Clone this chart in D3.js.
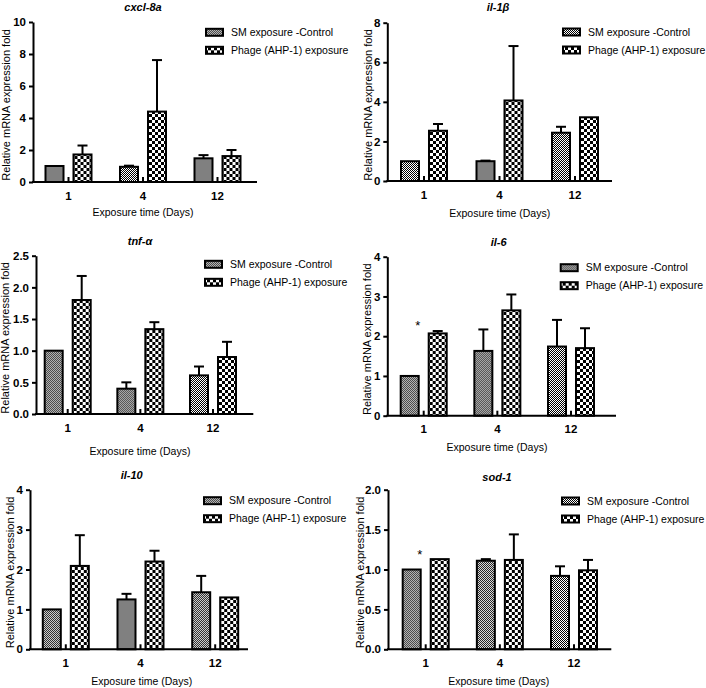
<!DOCTYPE html>
<html><head><meta charset="utf-8">
<script src="https://cdn.jsdelivr.net/npm/d3@7"></script>
<style>body{margin:0;background:#fff} svg{display:block}</style>
</head><body><svg id="c" width="706" height="688"></svg>
<script>
// ---------- data ----------
const days = ["1", "4", "12"];
const seriesNames = ["SM exposure -Control", "Phage (AHP-1) exposure"];
const geneTitles = ["cxcl-8a", "il-1β", "tnf-α", "il-6", "il-10", "sod-1"];
const xAxisTitle = "Exposure time (Days)";
const yAxisTitle = "Relative mRNA expression fold";
const yMaxValues = [10, 8, 2.5, 4, 4, 2.0];
const yTickSteps = [2, 2, 0.5, 1, 1, 0.5];
const yTickDecimals = [0, 0, 1, 0, 0, 1];

const cxcl8aControl = [1.00, 0.95, 1.48];
const cxcl8aControlSD = [0.00, 0.07, 0.20];
const cxcl8aPhage = [1.72, 4.40, 1.62];
const cxcl8aPhageSD = [0.56, 3.22, 0.38];

const il1bControl = [1.00, 1.00, 2.44];
const il1bControlSD = [0.00, 0.03, 0.30];
const il1bPhage = [2.54, 4.07, 3.22];
const il1bPhageSD = [0.34, 2.75, 0.00];

const tnfaControl = [1.00, 0.40, 0.61];
const tnfaControlSD = [0.00, 0.10, 0.14];
const tnfaPhage = [1.80, 1.34, 0.90];
const tnfaPhageSD = [0.38, 0.11, 0.24];

const il6Control = [1.00, 1.63, 1.74];
const il6ControlSD = [0.00, 0.54, 0.67];
const il6Phage = [2.07, 2.65, 1.70];
const il6PhageSD = [0.06, 0.40, 0.50];

const il10Control = [1.00, 1.25, 1.43];
const il10ControlSD = [0.00, 0.14, 0.41];
const il10Phage = [2.09, 2.20, 1.30];
const il10PhageSD = [0.77, 0.27, 0.00];

const sod1Control = [1.00, 1.11, 0.92];
const sod1ControlSD = [0.00, 0.02, 0.12];
const sod1Phage = [1.13, 1.12, 0.99];
const sod1PhageSD = [0.00, 0.32, 0.13];

const significantDays = [[], [], [], ["1"], [], ["1"]];

const controlMeans = [cxcl8aControl, il1bControl, tnfaControl, il6Control, il10Control, sod1Control];
const controlSDs = [cxcl8aControlSD, il1bControlSD, tnfaControlSD, il6ControlSD, il10ControlSD, sod1ControlSD];
const phageMeans = [cxcl8aPhage, il1bPhage, tnfaPhage, il6Phage, il10Phage, sod1Phage];
const phageSDs = [cxcl8aPhageSD, il1bPhageSD, tnfaPhageSD, il6PhageSD, il10PhageSD, sod1PhageSD];

// ---------- layout ----------
const axisX = [33, 387.3, 36, 387.3, 30, 388];
const axisEnd = [257, 612, 253.3, 616, 248, 611.3];
const firstCenter = [68.5, 424, 67.7, 423.7, 65.8, 425.7];
const lastCenter = [217.5, 575, 213, 571, 215.2, 574];
const yTopPx = [22, 22.7, 255.7, 256.7, 489.7, 489.7];
const yBotPx = [182, 181, 414, 415.7, 649.3, 649.3];
const titlePos = [[143, 7], [498, 7], [140, 240.7], [498.7, 242], [131.7, 475], [497, 476.7]];
const xTitlePos = [[143, 212], [499.7, 213.3], [140, 451.7], [497, 447.7], [141.7, 681], [498.7, 681]];
const yTitleX = [6, 368, 5, 367, 10, 360.3];
const legendPos = [[205, 32.3], [562, 32], [204, 264.3], [559.7, 267.7], [203, 500.7], [561, 501]];

const FONT = "'Liberation Sans', Arial, Helvetica, sans-serif";
const svg = d3.select("#c");

// patterns
const defs = svg.append("defs");
const fine = defs.append("pattern").attr("id", "pCtrl").attr("patternUnits", "userSpaceOnUse")
  .attr("width", 2).attr("height", 2);
fine.append("rect").attr("width", 2).attr("height", 2).attr("fill", "#fff");
fine.append("rect").attr("width", 1).attr("height", 1).attr("fill", "#000");
fine.append("rect").attr("x", 1).attr("y", 1).attr("width", 1).attr("height", 1).attr("fill", "#000");
const coarse = defs.append("pattern").attr("id", "pPhage").attr("patternUnits", "userSpaceOnUse")
  .attr("width", 6).attr("height", 6);
coarse.append("rect").attr("width", 6).attr("height", 6).attr("fill", "#fff");
coarse.append("rect").attr("width", 3).attr("height", 3).attr("fill", "#000");
coarse.append("rect").attr("x", 3).attr("y", 3).attr("width", 3).attr("height", 3).attr("fill", "#000");
const fills = ["url(#pCtrl)", "url(#pPhage)"];

geneTitles.forEach((gene, i) => {
  const g = svg.append("g");
  const step = (lastCenter[i] - firstCenter[i]) / 2;
  const x0 = d3.scaleBand().domain(days)
    .range([firstCenter[i] - step / 2, lastCenter[i] + step / 2]).padding(0);
  const x1 = d3.scaleBand().domain(seriesNames).range([-24, 24]).paddingInner(0.2857).paddingOuter(0);
  const y = d3.scaleLinear().domain([0, yMaxValues[i]]).range([yBotPx[i], yTopPx[i]]);
  const center = d => x0(d) + x0.bandwidth() / 2;

  const rows = days.map((d, k) => ({
    day: d,
    vals: [
      { s: seriesNames[0], m: controlMeans[i][k], sd: controlSDs[i][k], idx: 0 },
      { s: seriesNames[1], m: phageMeans[i][k], sd: phageSDs[i][k], idx: 1 }
    ]
  }));

  // bars
  const grp = g.selectAll("g.grp").data(rows).join("g")
    .attr("transform", r => `translate(${center(r.day)},0)`);
  grp.selectAll("line.err").data(r => r.vals.filter(v => v.sd > 0)).join("line")
    .attr("x1", v => x1(v.s) + x1.bandwidth() / 2).attr("x2", v => x1(v.s) + x1.bandwidth() / 2)
    .attr("y1", v => y(v.m)).attr("y2", v => y(v.m + v.sd))
    .attr("stroke", "#000").attr("stroke-width", 2);
  grp.selectAll("line.cap").data(r => r.vals.filter(v => v.sd > 0)).join("line")
    .attr("x1", v => x1(v.s) + x1.bandwidth() / 2 - 5).attr("x2", v => x1(v.s) + x1.bandwidth() / 2 + 5)
    .attr("y1", v => y(v.m + v.sd)).attr("y2", v => y(v.m + v.sd))
    .attr("stroke", "#000").attr("stroke-width", 2);
  grp.selectAll("rect").data(r => r.vals).join("rect")
    .attr("x", v => x1(v.s) + 1).attr("width", x1.bandwidth() - 2)
    .attr("y", v => y(v.m)).attr("height", v => y(0) - y(v.m))
    .attr("fill", v => fills[v.idx]).attr("stroke", "#000").attr("stroke-width", 2);

  // significance
  significantDays[i].forEach(d => {
    const k = days.indexOf(d);
    const top = Math.max(phageMeans[i][k] + phageSDs[i][k], controlMeans[i][k] + controlSDs[i][k]);
    g.append("text").attr("x", center(d) - 6).attr("y", y(top) - 8).attr("dy", "0.57em")
      .attr("text-anchor", "middle").attr("font-family", FONT).attr("font-size", 13).text("*");
  });

  // y axis
  const ticks = d3.range(0, yMaxValues[i] + 1e-9, yTickSteps[i]);
  const ya = g.append("g").attr("transform", `translate(${axisX[i]},0)`)
    .call(d3.axisLeft(y).tickValues(ticks).tickFormat(d3.format("." + yTickDecimals[i] + "f"))
      .tickSize(4).tickSizeOuter(0).tickPadding(3));
  ya.select(".domain").attr("stroke-width", 2);
  ya.selectAll(".tick line").attr("stroke-width", 2);
  ya.selectAll("text").attr("font-family", FONT).attr("font-size", 11.5).attr("font-weight", "bold").attr("fill", "#000");

  // x axis
  g.append("line").attr("x1", axisX[i] - 1).attr("x2", axisEnd[i]).attr("y1", y(0)).attr("y2", y(0))
    .attr("stroke", "#000").attr("stroke-width", 2);
  const xa = g.append("g").attr("transform", `translate(0,${y(0)})`)
    .call(d3.axisBottom(x0).tickSize(-5).tickSizeOuter(0).tickPadding(9.5));
  xa.select(".domain").remove();
  xa.selectAll(".tick line").attr("stroke-width", 2);
  xa.selectAll("text").attr("font-family", FONT).attr("font-size", 11.5).attr("font-weight", "bold").attr("fill", "#000");

  // titles
  g.append("text").attr("x", titlePos[i][0]).attr("y", titlePos[i][1]).attr("dy", "0.35em")
    .attr("text-anchor", "middle").attr("font-family", FONT).attr("font-size", 11)
    .attr("font-weight", "bold").attr("font-style", "italic").text(gene);
  g.append("text").attr("x", xTitlePos[i][0]).attr("y", xTitlePos[i][1]).attr("dy", "0.35em")
    .attr("text-anchor", "middle").attr("font-family", FONT).attr("font-size", 10.5).text(xAxisTitle);
  const ymid = (yTopPx[i] + yBotPx[i]) / 2 + 3;
  g.append("text").attr("transform", `translate(${yTitleX[i]},${ymid}) rotate(-90)`).attr("dy", "0.35em")
    .attr("text-anchor", "middle").attr("font-family", FONT).attr("font-size", 11).text(yAxisTitle);

  // legend
  const lg = g.append("g").attr("transform", `translate(${legendPos[i][0]},${legendPos[i][1]})`);
  const li = lg.selectAll("g").data(seriesNames).join("g").attr("transform", (d, k) => `translate(0,${k * 18})`);
  li.append("rect").attr("x", 1).attr("y", -3.5).attr("width", 17).attr("height", 7)
    .attr("fill", (d, k) => fills[k]).attr("stroke", "#000").attr("stroke-width", 2);
  li.append("text").attr("x", 26).attr("dy", "0.35em").attr("font-family", FONT).attr("font-size", 10.5).text(d => d);
});
</script></body></html>
